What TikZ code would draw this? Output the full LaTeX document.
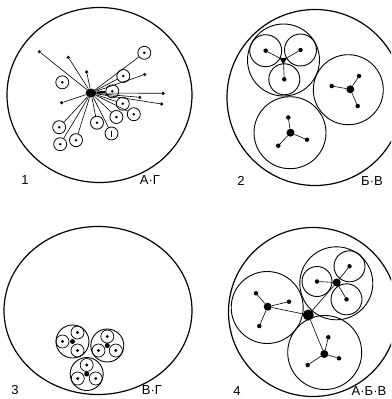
\documentclass[tikz,border=0pt]{standalone}
\usepackage{fontspec}
\setmainfont{Liberation Sans}
\usetikzlibrary{shapes.geometric}
\tikzset{
  outer/.style={line width=1.2pt},
  shell/.style={circle, draw, line width=0.9pt, inner sep=0pt},
  hub/.style={circle, fill, inner sep=0pt, minimum size=8pt},
  dot/.style={circle, fill, inner sep=0pt, minimum size=4.5pt},
  tip/.style={circle, fill, inner sep=0pt, minimum size=3.5pt},
  ring/.style={circle, draw, line width=0.8pt, inner sep=0pt, minimum size=13pt,
    path picture={\fill (path picture bounding box.center) circle (1.4pt);}},
  ringtick/.style={circle, draw, line width=0.8pt, inner sep=0pt, minimum size=13pt,
    path picture={\draw[line width=0.7pt] ([yshift=-3pt]path picture bounding box.center) -- ([yshift=3pt]path picture bounding box.center);}},
  cup/.style={circle, draw, line width=0.7pt, inner sep=0pt, minimum size=13pt,
    path picture={\fill (path picture bounding box.center) circle (1.6pt);}},
  spoke/.style={line width=0.6pt},
  tag/.style={font=\fontsize{13}{15}\selectfont}
}

\begin{document}
\begin{tikzpicture}[x=1pt, y=-1pt]
    \useasboundingbox (0,0) rectangle (391,399);
    \clip (0,0) rectangle (391,399);

    % 1 -- star
    \draw[outer] (99.5,95) ellipse [x radius=92.5pt, y radius=87.5pt];
    \node (hubS) [hub, ellipse, minimum width=11pt, minimum height=9pt] at (91,93) {};
    \node (t1) [tip] at (39.3,51.7) {};
    \node (t2) [tip] at (68.3,57.3) {};
    \node (t3) [tip] at (86.7,72) {};
    \node (t4) [tip] at (61.7,102.7) {};
    \node (t5) [tip] at (144.7,74.5) {};
    \node (t6) [tip] at (163,93.3) {};
    \node (t7) [tip] at (139.7,97.3) {};
    \node (t8) [tip] at (161.7,104) {};
    \node (r1) [ring] at (144.3,52.8) {};
    \node (r2) [ring] at (123.3,76) {};
    \node (r3) [ring] at (62.3,82.3) {};
    \node (r4) [ring] at (112.3,91.3) {};
    \node (r5) [ring] at (122.8,103.7) {};
    \node (r6) [ring] at (133.8,114.2) {};
    \node (r7) [ring] at (116.4,117) {};
    \node (r8) [ring] at (97,122.7) {};
    \node (r9) [ringtick] at (111.5,133.5) {};
    \node (r10) [ring] at (59.2,127.2) {};
    \node (r11) [ring] at (76,140.2) {};
    \node (r12) [ring] at (60.2,144.2) {};
    \foreach \n in {t1,t2,t3,t4,t5,t6,t7,t8,r1,r2,r5,r6,r7,r8,r9,r10,r11,r12}
      \draw[spoke] (hubS) -- (\n);
    \draw[line width=2pt] (hubS) -- (r4);
    \node (num1) [tag] at (25,180) {1};
    \node (key1) [tag] at (150,180) {А·Г};

    % 2 -- three cells
    \draw[outer] (315,97.5) circle (88pt);
    \node (cellA) [shell, minimum size=72pt] at (283.5,60) {};
    \node (lobeA1) [shell, minimum size=32pt] at (265.7,50.7) {};
    \node (lobeA2) [shell, minimum size=32pt] at (300.5,50) {};
    \node (lobeA3) [shell, minimum size=31pt] at (284.3,79.3) {};
    \node (hubA) [fill, regular polygon, regular polygon sides=3, shape border rotate=180, inner sep=0pt, minimum size=9pt] at (283.3,60) {};
    \node (dA1) [dot] at (265.7,50.7) {};
    \node (dA2) [dot] at (300.5,50) {};
    \node (dA3) [dot] at (284.3,79.3) {};
    \draw[spoke] (hubA) -- (dA1);
    \draw[spoke] (hubA) -- (dA2);
    \draw[spoke] (hubA) -- (dA3);
    \node (cellB) [shell, minimum size=70pt] at (348.3,89.7) {};
    \node (hubB) [hub] at (350.3,89.3) {};
    \node (dB1) [dot] at (331.7,86) {};
    \node (dB2) [dot] at (359,76) {};
    \node (dB3) [dot] at (357.7,106) {};
    \draw[spoke] (hubB) -- (dB1);
    \draw[spoke] (hubB) -- (dB2);
    \draw[spoke] (hubB) -- (dB3);
    \node (cellC) [shell, minimum size=72pt] at (290,132.7) {};
    \node (hubC) [hub] at (290.5,132.7) {};
    \node (dC1) [dot] at (288.3,117.5) {};
    \node (dC2) [dot] at (278.3,145.7) {};
    \node (dC3) [dot] at (307,139.7) {};
    \draw[spoke] (hubC) -- (dC1);
    \draw[spoke] (hubC) -- (dC2);
    \draw[spoke] (hubC) -- (dC3);
    \node (num2) [tag] at (241,181) {2};
    \node (key2) [tag] at (372,181) {Б·В};

    % 3 -- small cluster
    \draw[outer] (98,310.5) ellipse [x radius=94pt, y radius=84pt];
    \node (podP) [shell, minimum size=33pt] at (72.5,341.5) {};
    \node (hubP) [hub, minimum size=5pt] at (72.5,341.5) {};
    \node (cP1) [cup] at (62.5,341.5) {};
    \node (cP2) [cup] at (77.5,332.5) {};
    \node (cP3) [cup] at (77.5,350.5) {};
    \node (podQ) [shell, minimum size=33pt] at (107.3,345.5) {};
    \node (hubQ) [hub, minimum size=5pt] at (107.3,345.5) {};
    \node (cQ1) [cup] at (107.3,336.5) {};
    \node (cQ2) [cup] at (98.5,350.5) {};
    \node (cQ3) [cup] at (115.8,350.5) {};
    \node (podR) [shell, minimum size=33pt] at (86.7,374) {};
    \node (hubR) [hub, minimum size=5pt] at (86.7,374) {};
    \node (cR1) [cup] at (86.7,365) {};
    \node (cR2) [cup] at (77.7,378.5) {};
    \node (cR3) [cup] at (95.7,378.5) {};
    \node (num3) [tag] at (15,390) {3};
    \node (key3) [tag] at (152,390) {В·Г};

    % 4 -- nested
    \draw[outer] (313,312) circle (84.5pt);
    \node (hubM) [hub, minimum size=11pt] at (308.3,315) {};
    \node (cellL) [shell, minimum size=72pt] at (267.2,307.5) {};
    \node (hubL) [hub] at (267.7,306.7) {};
    \node (dL1) [dot] at (256,293.3) {};
    \node (dL2) [dot] at (289,301.7) {};
    \node (dL3) [dot] at (259.3,326) {};
    \draw[spoke] (hubL) -- (dL1);
    \draw[spoke] (hubL) -- (dL2);
    \draw[spoke] (hubL) -- (dL3);
    \node (cellT) [shell, minimum size=73pt] at (336.3,283.3) {};
    \node (lobeT1) [shell, minimum size=31pt] at (349.5,266.3) {};
    \node (lobeT2) [shell, minimum size=30pt] at (317,281.5) {};
    \node (lobeT3) [shell, minimum size=31pt] at (346.5,299.3) {};
    \node (hubT) [hub] at (336.7,282.5) {};
    \node (dT1) [dot] at (349.5,266.3) {};
    \node (dT2) [dot] at (317,281.5) {};
    \node (dT3) [dot] at (346.5,299.3) {};
    \draw[spoke] (hubT) -- (dT1);
    \draw[spoke] (hubT) -- (dT2);
    \draw[spoke] (hubT) -- (dT3);
    \node (cellD) [shell, minimum size=74pt] at (324.7,352.5) {};
    \node (hubD) [hub] at (324.3,354) {};
    \node (dD1) [dot] at (328.3,337.3) {};
    \node (dD2) [dot] at (307.7,365) {};
    \node (dD3) [dot] at (339,358.3) {};
    \draw[spoke] (hubD) -- (dD1);
    \draw[spoke] (hubD) -- (dD2);
    \draw[spoke] (hubD) -- (dD3);
    \draw[spoke] (hubM) -- (hubL);
    \draw[spoke] (hubM) -- (hubT);
    \draw[spoke] (hubM) -- (hubD);
    \node (num4) [tag] at (237,391) {4};
    \node (key4) [tag] at (369,391) {А·Б·В};
\end{tikzpicture}
\end{document}
